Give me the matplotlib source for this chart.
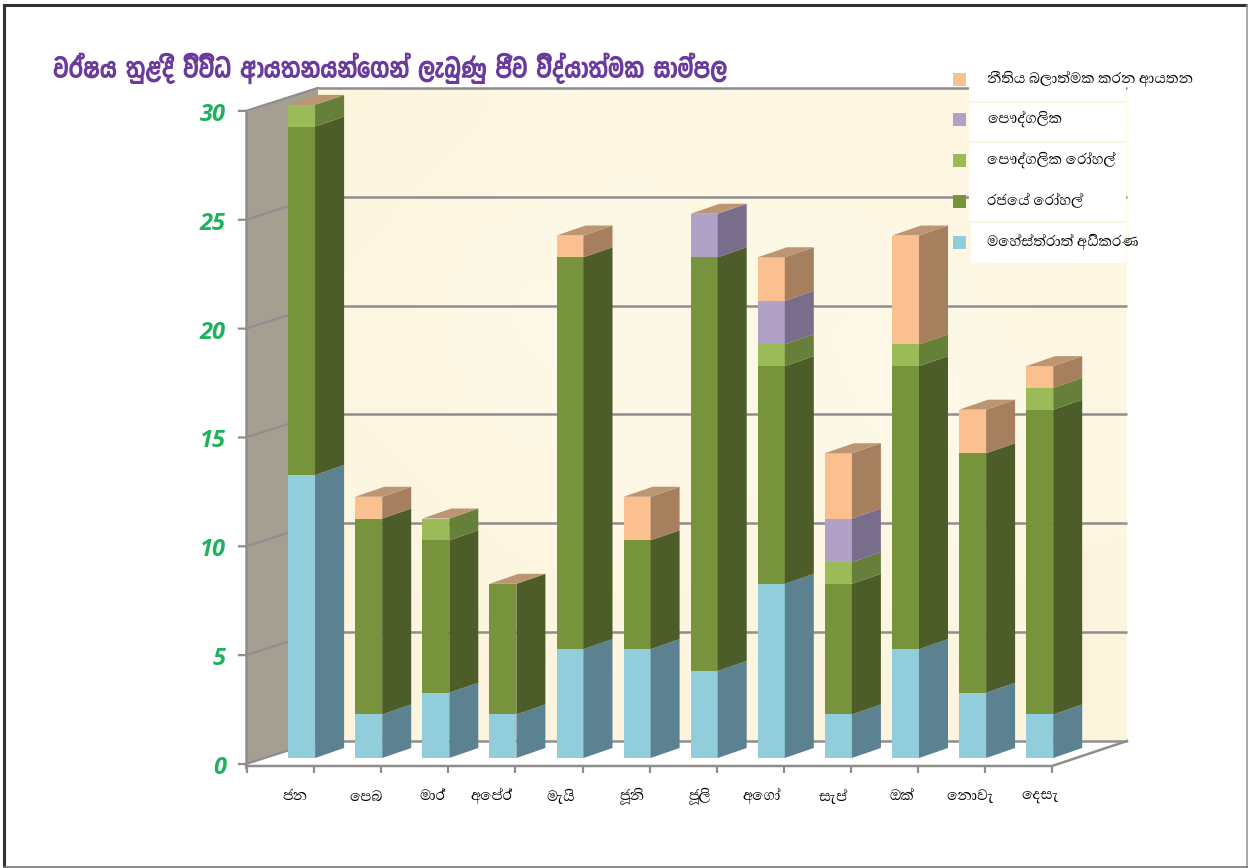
import re

import matplotlib

matplotlib.use("Agg")
import matplotlib.pyplot as plt
import numpy as np
from matplotlib.colors import LinearSegmentedColormap
from matplotlib.patches import Polygon, Rectangle

TITLE_FONT = ["Yaldevi Colombo", "Noto Sans"]
LABEL_FONT = ["Abhaya Libre", "Noto Sans Sinhala", "Noto Sans"]

MONTHS = ["ජන", "පෙබ", "මාර්", "අප්‍රේ", "මැයි", "ජූනි", "ජූලි", "අගෝ", "සැප්", "ඔක්", "නොවැ", "දෙසැ"]
TITLE = "වර්ෂය තුළදී විවිධ ආයතනයන්ගෙන් ලැබුණු ජීව විද්‍යාත්මක සාම්පල"

MAGISTRATE = [13, 2, 3, 2, 5, 5, 4, 8, 2, 5, 3, 2]
STATE_HOSP = [16, 9, 7, 6, 18, 5, 19, 10, 6, 13, 11, 14]
PRIVATE_HOSP = [1, 0, 1, 0, 0, 0, 0, 1, 1, 1, 0, 1]
PRIVATE = [0, 0, 0, 0, 0, 0, 2, 2, 2, 0, 0, 0]
LAW_ENF = [0, 1, 0, 0, 1, 2, 0, 2, 3, 5, 2, 1]

SERIES = [MAGISTRATE, STATE_HOSP, PRIVATE_HOSP, PRIVATE, LAW_ENF]
LEGEND_LABELS = ["මහේස්ත්‍රාත් අධිකරණ", "රජයේ රෝහල්", "පෞද්ගලික රෝහල්", "පෞද්ගලික", "නීතිය බලාත්මක කරන ආයතන"]
FRONT_COLORS = ["#92CDDC", "#77933C", "#9BBB59", "#B2A1C7", "#FAC090"]
SIDE_COLORS = ["#5C8292", "#4D5D29", "#66803A", "#786E8C", "#A67F5F"]
TOP_COLOR = "#BC9672"

Y_TICKS = [0, 5, 10, 15, 20, 25, 30]

# pixel layout of the picture, data units are months and samples
W, H = 1248, 868
PX_X0, PX_MONTH = 248.0, 67.1
PX_Y0, PX_VALUE = 758.0, 21.77
MONTH_LABEL_PX = [295, 366, 432, 491, 561, 632, 700, 762, 833, 902, 970, 1040]


def px_x(p):
    return (p - PX_X0) / PX_MONTH


def px_y(p):
    return (PX_Y0 - p) / PX_VALUE


BAR_W = 27 / PX_MONTH
BAR_DX = 29 / PX_MONTH
BAR_DY = 10 / PX_VALUE
GRAY = "#8E8E8E"

# matplotlib does no text shaping, so Sinhala vowels that sit left of the
# consonant have to be moved there before drawing
KOMBUVA = "\u0DD9"
PRE_BASE = {
    "\u0DD9": "",
    "\u0DDA": "\u0DCA",
    "\u0DDB": None,
    "\u0DDC": "\u0DCF",
    "\u0DDD": "\u0DCF\u0DCA",
    "\u0DDE": "\u0DDF",
}
CLUSTER = re.compile("([\u0D9A-\u0DC6](?:\u0DCA\u200D[\u0D9A-\u0DC6])*)([\u0DD9-\u0DDE])")


def shape(text):
    def fix(m):
        after = PRE_BASE[m.group(2)]
        if after is None:
            return m.group(2) + m.group(1)
        return KOMBUVA + m.group(1) + after

    return CLUSTER.sub(fix, text).replace("\u200D", "")


def draw_walls(ax):
    # parchment back wall, hand picked tones
    tones = np.array([
        [0.4, 0.5, 0.7, 0.5, 0.6, 0.5],
        [0.5, 0.9, 0.6, 0.8, 0.7, 0.5],
        [0.5, 0.7, 0.8, 0.6, 0.9, 0.6],
        [0.4, 0.5, 0.6, 0.5, 0.7, 0.5],
        [0.3, 0.4, 0.4, 0.3, 0.4, 0.3],
    ])
    cmap = LinearSegmentedColormap.from_list("paper", ["#FBF1D4", "#FFFBEE"])
    ax.imshow(tones, cmap=cmap, vmin=0, vmax=1, aspect="auto", interpolation="bicubic",
              extent=(px_x(318), px_x(1127), px_y(741), px_y(87)), zorder=1)

    side = Polygon([(px_x(246), px_y(764)), (px_x(318), px_y(741)), (px_x(318), px_y(87)), (px_x(246), px_y(112))],
                   facecolor="#A49F90", edgecolor="none", zorder=2)
    ax.add_patch(side)

    back_dy = px_y(741)
    front_dy = px_y(764)
    for v in Y_TICKS:
        ax.plot([px_x(318), px_x(1127)], [v + back_dy, v + back_dy], color=GRAY, lw=1.8, zorder=3, solid_capstyle="butt")
        ax.plot([px_x(239), px_x(246), px_x(318)], [v + front_dy, v + front_dy, v + back_dy],
                color=GRAY, lw=1.6, zorder=3, solid_joinstyle="miter")
        ax.text(px_x(226), v + px_y(768), str(v), color="#1DB25B", fontsize=17, fontweight="bold",
                fontstyle="italic", family="Open Sans", ha="right", va="center", zorder=6)

    # left edge and floor outline
    ax.plot([px_x(246), px_x(246)], [px_y(112), px_y(768)], color=GRAY, lw=1.8, zorder=3)
    ax.plot([px_x(246), px_x(1052), px_x(1127)], [px_y(766), px_y(766), px_y(741)], color=GRAY, lw=1.8, zorder=3,
            solid_joinstyle="miter")
    for i in range(len(MONTHS) + 1):
        tx = px_x(247 + 67.1 * i) if i < len(MONTHS) else px_x(1052)
        ax.plot([tx, tx], [px_y(766), px_y(773)], color=GRAY, lw=1.6, zorder=3, solid_capstyle="butt")


def draw_bars(ax):
    x = np.arange(len(MONTHS)) + 1
    bottoms = np.zeros(len(MONTHS))
    for values, front, side in zip(SERIES, FRONT_COLORS, SIDE_COLORS):
        values = np.array(values, dtype=float)
        ax.bar(x, values, width=-BAR_W, align="edge", bottom=bottoms, color=front, linewidth=0, zorder=4)
        for xi, b, v in zip(x, bottoms, values):
            if v == 0:
                continue
            ax.add_patch(Polygon([(xi, b), (xi + BAR_DX, b + BAR_DY), (xi + BAR_DX, b + v + BAR_DY), (xi, b + v)],
                                 facecolor=side, edgecolor="none", zorder=4))
        bottoms += values
    for xi, top in zip(x, bottoms):
        ax.add_patch(Polygon([(xi - BAR_W, top), (xi, top), (xi + BAR_DX, top + BAR_DY), (xi - BAR_W + BAR_DX, top + BAR_DY)],
                             facecolor=TOP_COLOR, edgecolor="none", zorder=4))


def draw_legend(ax):
    # white panels the labels sit on, they hide the wall behind them
    ax.add_patch(Rectangle((px_x(969), px_y(263)), px_x(1126) - px_x(969), px_y(84) - px_y(263),
                           facecolor="white", edgecolor="none", zorder=5))
    ax.add_patch(Rectangle((px_x(969), px_y(263)), px_x(971) - px_x(969), px_y(222) - px_y(263),
                           facecolor="#FDF6E0", edgecolor="none", zorder=5))
    for py in [102, 142, 222]:
        ax.plot([px_x(969), px_x(1126)], [px_y(py), px_y(py)], color="#FCF3D8", lw=1.2, zorder=6)

    rows = [242, 201, 160, 119, 79]
    for label, color, py in zip(LEGEND_LABELS, FRONT_COLORS, rows):
        ax.add_patch(Rectangle((px_x(953), px_y(py + 6.5)), 13 / PX_MONTH, 13 / PX_VALUE,
                               facecolor=color, edgecolor="none", zorder=6))
        ax.text(px_x(987), px_y(py), shape(label), fontsize=13.5, family=LABEL_FONT, color="black",
                ha="left", va="center", zorder=7)


def main():
    fig = plt.figure(figsize=(W / 100, H / 100), dpi=100, facecolor="white")
    ax = fig.add_axes([0, 0, 1, 1])

    draw_walls(ax)
    draw_bars(ax)
    draw_legend(ax)

    for month, px in zip(MONTHS, MONTH_LABEL_PX):
        ax.text(px_x(px), px_y(796), shape(month), fontsize=13.5, family=LABEL_FONT, color="black",
                ha="center", va="center", zorder=6)

    ax.text(px_x(53), px_y(68), shape(TITLE), fontsize=21.5, fontweight="bold", family=TITLE_FONT, color="#6A3A9C",
            ha="left", va="center", zorder=6)

    # page frame
    ax.plot([px_x(3.5), px_x(3.5)], [px_y(868), px_y(4.5)], color="#333333", lw=2.2, zorder=8)
    ax.plot([px_x(3.5), px_x(1248)], [px_y(4.5), px_y(4.5)], color="#333333", lw=2.2, zorder=8)
    ax.plot([px_x(1246.5), px_x(1246.5)], [px_y(4.5), px_y(868)], color="#999999", lw=1.2, zorder=8)
    ax.plot([px_x(3.5), px_x(1248)], [px_y(867), px_y(867)], color="#777777", lw=1.2, zorder=8)

    ax.set_xlim(px_x(0), px_x(W))
    ax.set_ylim(px_y(H), px_y(0))
    ax.axis("off")
    fig.savefig("out.png", dpi=100, facecolor="white")
    plt.close(fig)


if __name__ == "__main__":
    main()
